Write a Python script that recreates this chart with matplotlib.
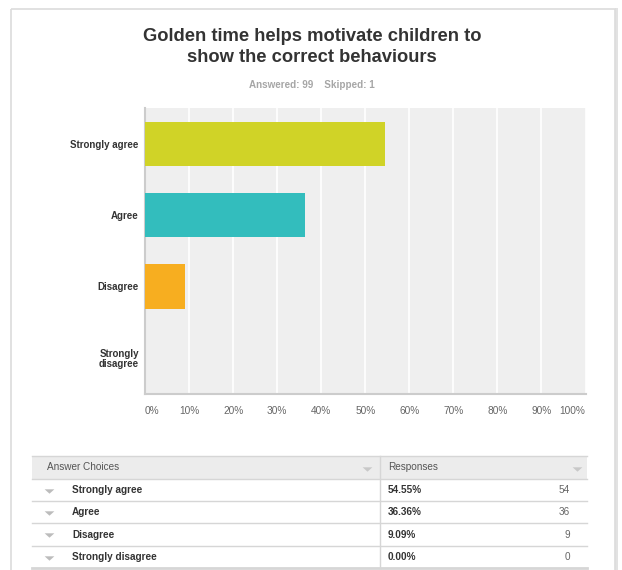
import matplotlib
matplotlib.use("Agg")
import matplotlib.pyplot as plt
from matplotlib.patches import Rectangle

plt.rcParams['font.family'] = ['Liberation Sans', 'DejaVu Sans']

# survey data
title = 'Golden time helps motivate children to\nshow the correct behaviours'
subtitle = 'Answered: 99    Skipped: 1'
choices = ['Strongly agree', 'Agree', 'Disagree', 'Strongly disagree']
axis_labels = ['Strongly agree', 'Agree', 'Disagree', 'Strongly\ndisagree']
percents = [54.55, 36.36, 9.09, 0.00]
counts = [54, 36, 9, 0]
bar_colors = ['#d0d327', '#33bdbd', '#f7ae20', '#8f8f8f']
xticks = [0, 10, 20, 30, 40, 50, 60, 70, 80, 90, 100]

W, H = 622, 570
fig = plt.figure(figsize=(W / 100, H / 100), dpi=100)
fig.patch.set_facecolor('white')

# flat little "sort" triangle used in the table
tri = [(-1, 0.45), (1, 0.45), (0, -0.45), (-1, 0.45)]

# overlay axes in pixel coords for frame, titles and table
bg = fig.add_axes([0, 0, 1, 1])
bg.set_xlim(0, W)
bg.set_ylim(H, 0)
bg.axis('off')

# card frame + shadow on the right
bg.add_patch(Rectangle((615, 8), 3, H, color='#e2e2e2', lw=0))
bg.add_patch(Rectangle((10.5, 8.5), 604, H + 10, fill=False, ec='#dcdcdc', lw=1.2))

bg.text(312, 47, title, ha='center', va='center', fontsize=13.2,
        fontweight='bold', color='#333333', linespacing=1.32)
bg.text(312, 85, subtitle, ha='center', va='center', fontsize=7.1,
        fontweight='bold', color='#a6a6a6')

# ---- bar chart ----
left, right, top, bottom = 145, 585.5, 108, 393.5
ax = fig.add_axes([left / W, 1 - bottom / H, (right - left) / W, (bottom - top) / H])
ax.set_facecolor('#efefef')
ypos = list(range(len(choices)))
ax.barh(ypos, percents, height=0.62, color=bar_colors, zorder=3)
ax.set_xlim(0, 100)
ax.set_ylim(len(choices) - 0.5, -0.5)
ax.set_xticks(xticks)
ax.set_xticklabels(['%d%%' % t for t in xticks], fontsize=7.3, color='#666666')
xl = ax.get_xticklabels()
xl[0].set_ha('left')
xl[-1].set_ha('right')
ax.set_yticks(ypos)
ax.set_yticklabels(axis_labels, fontsize=7, fontweight='bold', color='#333333',
                   linespacing=1.0)
ax.tick_params(axis='x', length=0, pad=9)
ax.tick_params(axis='y', length=0, pad=4.5)
ax.grid(axis='x', color='white', lw=1.2, zorder=1)
for s in ['top', 'right']:
    ax.spines[s].set_visible(False)
ax.spines['left'].set_color('#cccccc')
ax.spines['bottom'].set_color('#cccccc')
ax.spines['left'].set_linewidth(1.5)
ax.spines['bottom'].set_linewidth(1.5)
ax.set_axisbelow(True)

# ---- answer table ----
tl, tr, col = 32, 587, 380
head_top, head_bot = 456, 479
row_h = 22.2
bg.add_patch(Rectangle((tl, head_top), tr - tl, head_bot - head_top,
                       color='#ececec', lw=0))
bg.plot([tl, tr], [head_top, head_top], color='#d6d6d6', lw=1)
bg.plot([tl, tr], [head_bot, head_bot], color='#d6d6d6', lw=1)
bg.text(47, 467.5, 'Answer Choices', ha='left', va='center', fontsize=7.2, color='#555555')
bg.text(388, 467.5, 'Responses', ha='left', va='center', fontsize=7.2, color='#555555')
bg.plot([367, 577], [468.5, 468.5], ls='none', marker=tri, ms=7, mew=0,
        color='#c8c8c8')

for i, (name, p, c) in enumerate(zip(choices, percents, counts)):
    y0 = head_bot + i * row_h
    yc = y0 + row_h / 2
    bg.plot([tl, tr], [y0 + row_h, y0 + row_h], color='#d6d6d6',
            lw=1 if i < len(choices) - 1 else 2)
    bg.plot([49], [yc + 0.8], ls='none', marker=tri, ms=7, mew=0, color='#bcbcbc')
    bg.text(72, yc, name, ha='left', va='center', fontsize=7.2, fontweight='bold',
            color='#333333')
    bg.text(388, yc, '%.2f%%' % p, ha='left', va='center', fontsize=7.2,
            fontweight='bold', color='#333333')
    bg.text(570, yc, str(c), ha='right', va='center', fontsize=7.2, color='#666666')

bg.plot([col, col], [head_top, head_bot + len(choices) * row_h], color='#d6d6d6', lw=1)

fig.savefig('out.png', dpi=100, facecolor='white')
